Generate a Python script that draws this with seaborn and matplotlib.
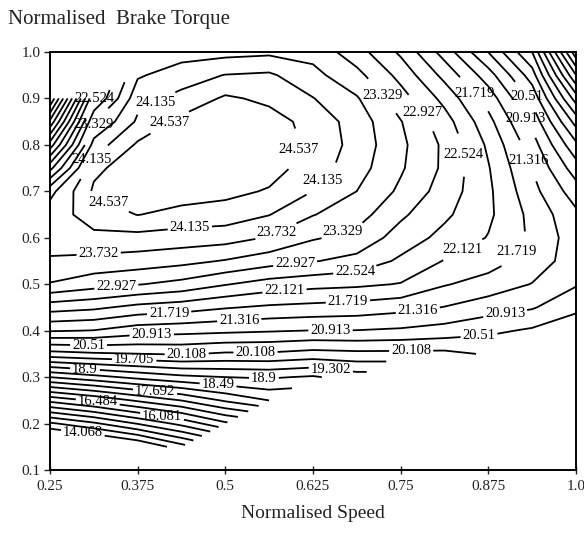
import numpy as np
import matplotlib
matplotlib.use("Agg")
import matplotlib.pyplot as plt
import seaborn as sns

sns.set_theme(style="ticks")
plt.rcParams["font.family"] = ["Liberation Serif", "DejaVu Serif"]

nan = np.nan

# Normalised speed (x) and normalised load (y) grid
speed = [0.25, 0.3125, 0.375, 0.4375, 0.5, 0.5625, 0.625, 0.6875, 0.75, 0.8125, 0.875, 0.9375, 1.0]
load = [0.10, 0.15, 0.20, 0.25, 0.30, 0.35, 0.40, 0.45, 0.50, 0.55,
        0.60, 0.65, 0.70, 0.75, 0.80, 0.85, 0.90, 0.95, 1.00]

# Normalised brake torque, one column per speed value (bottom to top in load)
t_0250 = [nan, 12.9, 14.4, 16.2, 18.1, 19.95, 21.35, 22.3, 23.3, 23.7, 23.85, 23.95, 23.6, 22.4, 21.1, 19.8, 18.5, nan, nan]
t_0313 = [nan, 13.2, 14.8, 16.55, 18.35, 20.05, 21.3, 22.2, 23.1, 23.6, 24.05, 24.3, 24.6, 24.45, 23.9, 23.3, 22.5, nan, nan]
t_0375 = [nan, 13.6, 15.3, 16.95, 18.6, 20.1, 21.1, 22.0, 22.95, 23.55, 24.0, 24.55, 24.75, 24.75, 24.6, 24.2, 24.0, 23.68, nan]
t_0438 = [nan, 14.3, 15.8, 17.3, 18.8, 20.15, 21.05, 21.9, 22.8, 23.45, 23.95, 24.4, 24.75, 24.9, 24.85, 24.65, 24.25, 23.95, 23.55]
t_0500 = [nan, nan, 16.4, 17.75, 18.9, 20.05, 21.0, 21.75, 22.55, 23.3, 23.9, 24.35, 24.65, 24.85, 24.9, 24.8, 24.6, 24.15, 23.6]
t_0563 = [nan, nan, nan, 18.1, 18.95, 20.05, 20.95, 21.65, 22.35, 23.1, 23.7, 24.15, 24.5, 24.7, 24.75, 24.7, 24.45, 24.2, 23.65]
t_0625 = [nan, nan, nan, nan, 18.85, 19.95, 20.9, 21.6, 22.25, 22.95, 23.37, 23.75, 24.13, 24.35, 24.45, 24.4, 24.15, 23.85, 23.6]
t_0688 = [nan, nan, nan, nan, 19.1, 20.0, 20.9, 21.55, 22.2, 22.8, 23.2, 23.5, 23.73, 23.9, 23.98, 23.95, 23.77, 23.45, 23.1]
t_0750 = [nan, nan, nan, nan, nan, 20.0, 20.85, 21.45, 22.1, 22.45, 22.75, 23.0, 23.25, 23.38, 23.42, 23.35, 23.1, 22.8, 22.45]
t_0813 = [nan, nan, nan, nan, nan, 20.0, 20.75, 21.3, 21.75, 22.1, 22.4, 22.6, 22.75, 22.85, 22.85, 22.7, 22.4, 22.0, 21.55]
t_0875 = [nan, nan, nan, nan, nan, 20.15, 20.6, 21.1, 21.55, 21.9, 22.1, 22.2, 22.2, 22.15, 22.05, 21.85, 21.55, 21.1, 20.5]
t_0938 = [nan, nan, nan, nan, nan, nan, 20.45, 20.95, 21.3, 21.55, 21.65, 21.6, 21.45, 21.3, 21.1, 20.8, 20.4, 19.9, 19.3]
t_1000 = [nan, nan, nan, nan, nan, nan, 20.25, 20.6, 20.95, 21.1, 21.1, 21.0, 20.7, 20.3, 19.8, 19.15, 18.3, 17.3, 16.2]

# Contour levels and their printed labels
levels = [14.068, 14.471, 14.873, 15.276, 15.678, 16.081, 16.484, 16.886, 17.289,
          17.692, 18.095, 18.49, 18.9, 19.302, 19.705, 20.108, 20.51, 20.913,
          21.316, 21.719, 22.121, 22.524, 22.927, 23.329, 23.732, 24.135, 24.537]
level_text = ["14.068", "14.471", "14.873", "15.276", "15.678", "16.081", "16.484", "16.886", "17.289",
              "17.692", "18.095", "18.49", "18.9", "19.302", "19.705", "20.108", "20.51", "20.913",
              "21.316", "21.719", "22.121", "22.524", "22.927", "23.329", "23.732", "24.135", "24.537"]

x_ticks = [0.25, 0.375, 0.5, 0.625, 0.75, 0.875, 1.0]
x_tick_labels = ["0.25", "0.375", "0.5", "0.625", "0.75", "0.875", "1.0"]
y_ticks = [0.1, 0.2, 0.3, 0.4, 0.5, 0.6, 0.7, 0.8, 0.9, 1.0]
y_tick_labels = ["0.1", "0.2", "0.3", "0.4", "0.5", "0.6", "0.7", "0.8", "0.9", "1.0"]

# where the inline labels sit (layout)
label_spots = [
    (0.315, 0.90), (0.39, 0.916), (0.318, 0.84), (0.42, 0.85), (0.32, 0.76), (0.332, 0.67),
    (0.59, 0.80), (0.635, 0.73), (0.45, 0.606), (0.575, 0.604), (0.67, 0.60),
    (0.32, 0.55), (0.345, 0.488), (0.6, 0.537), (0.685, 0.53), (0.585, 0.473),
    (0.675, 0.455), (0.42, 0.434), (0.52, 0.419), (0.775, 0.438),
    (0.395, 0.395), (0.65, 0.397), (0.9, 0.427), (0.305, 0.373), (0.862, 0.384),
    (0.543, 0.354), (0.765, 0.352), (0.445, 0.343), (0.37, 0.333), (0.65, 0.31),
    (0.30, 0.32), (0.555, 0.298), (0.49, 0.29), (0.40, 0.272), (0.318, 0.246),
    (0.41, 0.218), (0.297, 0.182),
    (0.722, 0.903), (0.77, 0.858), (0.835, 0.778), (0.852, 0.905), (0.93, 0.905),
    (0.928, 0.858), (0.93, 0.765), (0.84, 0.57), (0.917, 0.57),
]

Z = np.ma.masked_invalid(np.column_stack([t_0250, t_0313, t_0375, t_0438, t_0500, t_0563, t_0625,
                                          t_0688, t_0750, t_0813, t_0875, t_0938, t_1000]))

fig = plt.figure(figsize=(5.84, 5.33), dpi=100)
ax = fig.add_axes([50 / 584, 1 - 470 / 533, 526 / 584, 418 / 533])
cs = ax.contour(speed, load, Z, levels=levels, colors="black", linewidths=1.3, corner_mask=True)
fmt = dict(zip(cs.levels, level_text))
ax.clabel(cs, levels=cs.levels, fmt=fmt, manual=label_spots, inline=True,
          inline_spacing=2, fontsize=10.5, colors="black")
for t in cs.labelTexts:
    t.set_rotation(0)
    t.set_family(["Liberation Serif", "DejaVu Serif"])

ax.set_xlim(0.25, 1.0)
ax.set_ylim(0.1, 1.0)
ax.set_xticks(x_ticks)
ax.set_xticklabels(x_tick_labels)
ax.set_yticks(y_ticks)
ax.set_yticklabels(y_tick_labels)
ax.tick_params(axis="x", direction="inout", length=6, width=1, labelsize=11, pad=4, colors="#222222")
ax.tick_params(axis="y", direction="out", length=4, width=1, labelsize=11, pad=3, colors="#222222")
for s in ax.spines.values():
    s.set_linewidth(1.4)
    s.set_color("black")
ax.set_facecolor("white")
ax.set_xlabel("Normalised Speed", fontsize=14, labelpad=9, color="#222222")

fig.text(8 / 584, 1 - 24 / 533, "Normalised  Brake Torque", fontsize=15,
         ha="left", va="baseline", color="#222222")

fig.savefig("out.png", dpi=100, facecolor="white")
